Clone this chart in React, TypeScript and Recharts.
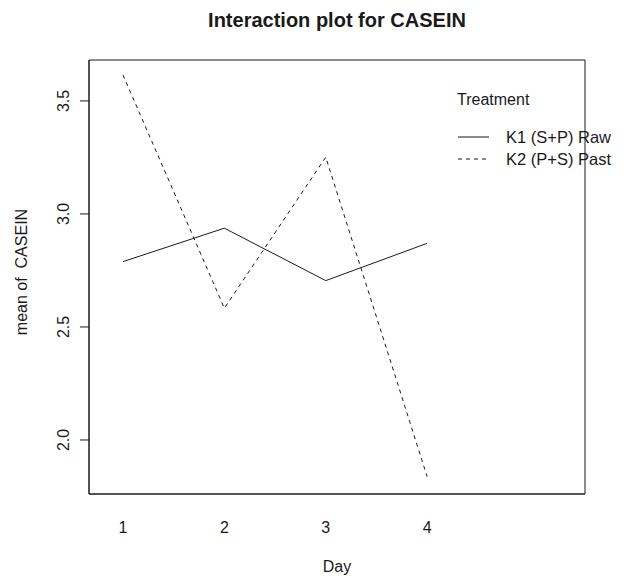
import React from 'react'
import { LineChart, Line, XAxis, YAxis, Legend, ReferenceArea } from 'recharts'

const days = [1, 2, 3, 4]
const k1Raw = [2.789, 2.937, 2.705, 2.87]
const k2Past = [3.615, 2.583, 3.251, 1.838]
const yTicks = [2.0, 2.5, 3.0, 3.5]
const seriesNames = ['K1 (S+P) Raw', 'K2 (P+S) Past']
const xDomain: [number, number] = [0.665, 5.557]
const yDomain: [number, number] = [1.761, 3.681]

const FONT = '"Liberation Sans", Arial, Helvetica, sans-serif'
const INK = '#1a1a1a'

const data = days.map((d, i) => ({ day: d, k1: k1Raw[i], k2: k2Past[i] }))

const YTick = (props: any) => {
  const { x, y, payload } = props
  const cx = x - 9
  return (
    <text
      x={cx}
      y={y}
      transform={`rotate(-90, ${cx}, ${y})`}
      textAnchor="middle"
      fontSize={16}
      fontFamily={FONT}
      fill={INK}
    >
      {Number(payload.value).toFixed(1)}
    </text>
  )
}

const LegendBox = () => (
  <svg width={180} height={90} style={{ display: 'block', overflow: 'visible' }}>
    <text x={2} y={20} fontSize={16} fontFamily={FONT} fill={INK}>
      Treatment
    </text>
    <line x1={3} x2={34} y1={52} y2={52} stroke={INK} strokeWidth={1} />
    <text x={51} y={58} fontSize={16.5} fontFamily={FONT} fill={INK}>
      {seriesNames[0]}
    </text>
    <line x1={3} x2={34} y1={74} y2={74} stroke={INK} strokeWidth={1} strokeDasharray="4 4" />
    <text x={51} y={80} fontSize={16.5} fontFamily={FONT} fill={INK}>
      {seriesNames[1]}
    </text>
  </svg>
)

export default function App() {
  return (
    <div style={{ position: 'absolute', left: 0, top: 0, width: 633, height: 585, background: '#fff' }}>
      <LineChart
        width={633}
        height={585}
        data={data}
        margin={{ top: 60, right: 48, bottom: 51, left: 29 }}
      >
        <XAxis
          dataKey="day"
          type="number"
          domain={xDomain}
          ticks={days}
          allowDataOverflow
          height={40}
          tickLine={false}
          tickSize={0}
          tickMargin={28}
          axisLine={{ stroke: INK }}
          tick={{ fontSize: 16, fontFamily: FONT, fill: INK }}
        />
        <YAxis
          type="number"
          domain={yDomain}
          ticks={yTicks}
          allowDataOverflow
          width={60}
          tickSize={9}
          tickLine={{ stroke: INK }}
          axisLine={{ stroke: INK }}
          tick={<YTick />}
        />
        <ReferenceArea
          x1={xDomain[0]}
          x2={xDomain[1]}
          y1={yDomain[0]}
          y2={yDomain[1]}
          fill="none"
          fillOpacity={0}
          stroke={INK}
          strokeWidth={1}
          ifOverflow="visible"
        />
        <Legend
          layout="vertical"
          align="center"
          verticalAlign="middle"
          content={<LegendBox />}
          wrapperStyle={{ left: 455, top: 85, width: 180 }}
        />
        <Line
          type="linear"
          dataKey="k1"
          name={seriesNames[0]}
          stroke={INK}
          strokeWidth={1}
          dot={false}
          isAnimationActive={false}
        />
        <Line
          type="linear"
          dataKey="k2"
          name={seriesNames[1]}
          stroke={INK}
          strokeWidth={1}
          strokeDasharray="4 4"
          dot={false}
          isAnimationActive={false}
        />
      </LineChart>
      <svg
        width={633}
        height={585}
        style={{ position: 'absolute', left: 0, top: 0, pointerEvents: 'none' }}
      >
        <text x={337} y={27} textAnchor="middle" fontSize={20} fontWeight="bold" fontFamily={FONT} fill={INK}>
          Interaction plot for CASEIN
        </text>
        <text
          x={27}
          y={272}
          transform="rotate(-90, 27, 272)"
          textAnchor="middle"
          fontSize={16}
          fontFamily={FONT}
          fill={INK}
        >
          {'mean of\u00a0 CASEIN'}
        </text>
        <text x={337} y={572} textAnchor="middle" fontSize={16} fontFamily={FONT} fill={INK}>
          Day
        </text>
      </svg>
    </div>
  )
}
